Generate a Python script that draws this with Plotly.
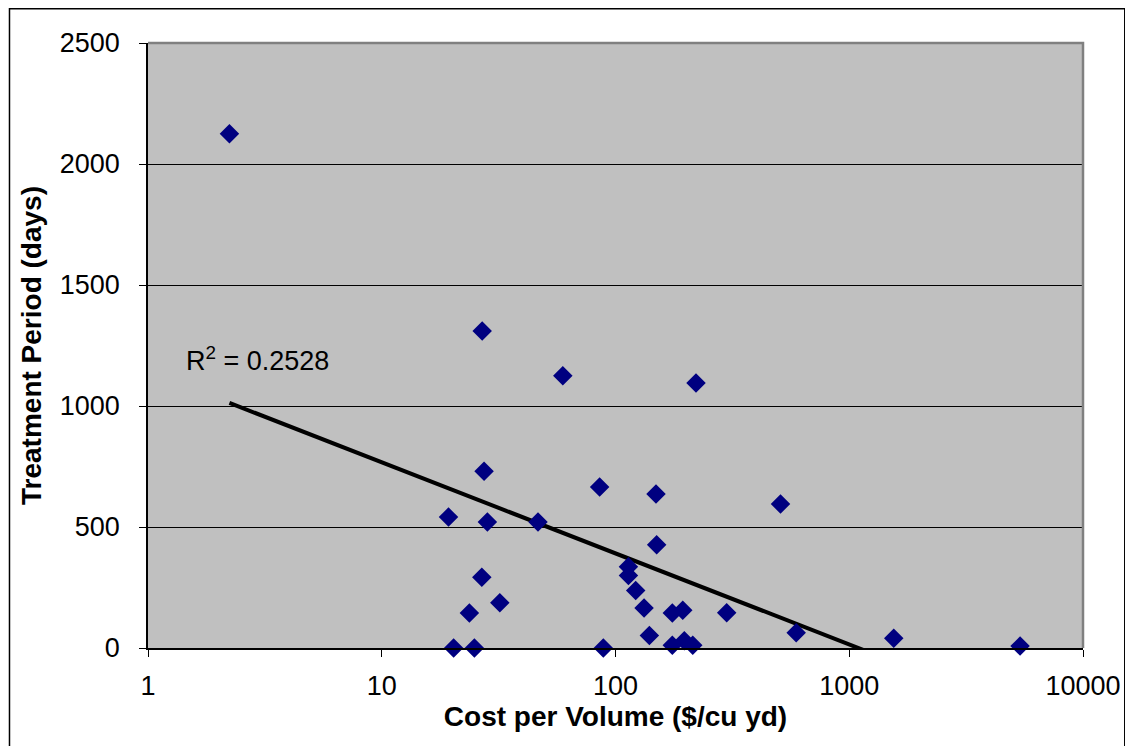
import numpy as np
import plotly.graph_objects as go

# Data
cost_per_volume = [2.23, 26.9, 59.5, 221, 27.4, 85.5, 149, 508, 19.3, 28.3,
                   46.6, 150, 113.6, 113.6, 122, 26.8, 32.0, 23.7, 132.5, 175,
                   194, 299, 139.6, 593, 1550, 5380, 175, 197, 214, 20.3,
                   24.9, 88.7]
treatment_days = [2125, 1310, 1125, 1095, 730, 665, 636, 595, 541, 521,
                  521, 427, 336, 300, 238, 292, 187, 145, 165, 145,
                  156, 146, 52, 63, 40, 8, 11, 30, 11, 0,
                  0, 0]
x_ticks = [1, 10, 100, 1000, 10000]
y_ticks = [0, 500, 1000, 1500, 2000, 2500]
r2_label = "R<sup>2</sup> = 0.2528"

x = np.array(cost_per_volume, dtype=float)
y = np.array(treatment_days, dtype=float)

# Logarithmic trendline (y = a ln x + b), as in the original spreadsheet chart
a, b = np.polyfit(np.log(x), y, 1)
xs = np.sort(np.unique(x))
ys = a * np.log(xs) + b

FIG_W, FIG_H = 1125, 738
L, R, T, B = 140, 45, 35, 98
PW, PH = FIG_W - L - R, FIG_H - T - B

fig = go.Figure()
fig.add_trace(go.Scatter(
    x=xs, y=ys, mode="lines",
    line=dict(color="black", width=4),
    hoverinfo="skip", showlegend=False,
))
fig.add_trace(go.Scatter(
    x=x, y=y, mode="markers",
    marker=dict(symbol="diamond", size=15, color="#000080"),
    showlegend=False, cliponaxis=False,
))

FONT = "Arial, Liberation Sans, sans-serif"
fig.add_annotation(
    x=np.log10(1.42), y=1195, xref="x", yref="y",
    text=r2_label, showarrow=False, xanchor="left", yanchor="middle",
    font=dict(family=FONT, size=27, color="black"),
)

# Outer chart border
fig.add_shape(type="rect", xref="paper", yref="paper",
              x0=(0.75 - L) / PW, x1=(1122 - L) / PW,
              y0=(PH + T - 760) / PH, y1=(PH + T - 0.75) / PH,
              line=dict(color="black", width=1.5), fillcolor="rgba(0,0,0,0)",
              layer="below")
# Plot area top/right gray border
fig.add_shape(type="path", xref="paper", yref="paper",
              path="M 0 1 L 1 1 L 1 0",
              line=dict(color="#808080", width=2.5))

tick_font = dict(family=FONT, size=27, color="black")
title_font = dict(family=FONT, size=28, color="black")

fig.update_layout(
    width=FIG_W, height=FIG_H,
    margin=dict(l=L, r=R, t=T, b=B),
    paper_bgcolor="white",
    plot_bgcolor="#C0C0C0",
    font=tick_font,
    xaxis=dict(
        type="log", range=[0, 4],
        tickvals=x_ticks,
        ticktext=[str(v) for v in x_ticks],
        ticks="outside", ticklen=7, tickcolor="black",
        showline=True, linecolor="black", linewidth=1.5,
        showgrid=False, zeroline=False,
        tickfont=tick_font,
        ticklabelstandoff=6,
        title=dict(text="<b>Cost per Volume ($/cu yd)</b>",
                   font=title_font, standoff=1),
    ),
    yaxis=dict(
        range=[0, 2500],
        tickvals=y_ticks,
        ticks="outside", ticklen=7, tickcolor="black",
        showline=True, linecolor="black", linewidth=1.5,
        showgrid=True, gridcolor="black", gridwidth=1,
        zeroline=False,
        tickfont=tick_font,
        ticklabelstandoff=14,
        title=dict(text="<b>Treatment Period (days)</b>",
                   font=title_font, standoff=10),
    ),
)

fig.write_html("out.html")
